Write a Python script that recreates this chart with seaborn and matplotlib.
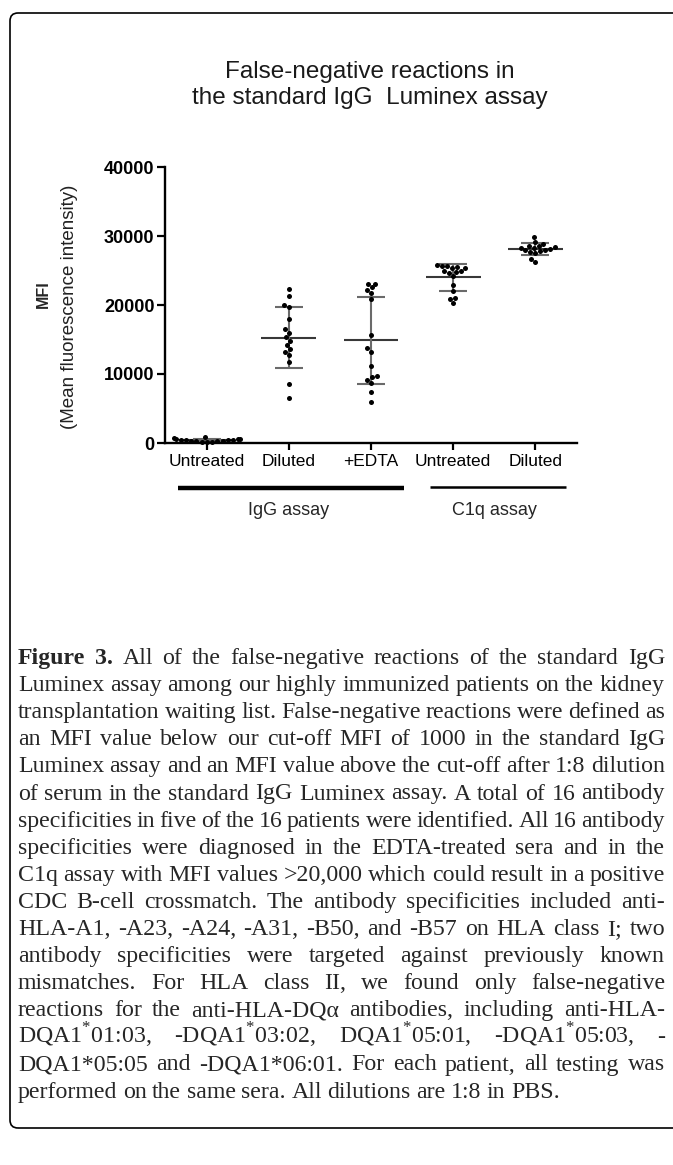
import numpy as np
import pandas as pd
import seaborn as sns
import matplotlib.pyplot as plt
from matplotlib.patches import FancyBboxPatch
from matplotlib.transforms import blended_transform_factory

# values (MFI per antibody specificity)
conditions = ["IgG Untreated", "IgG Diluted", "IgG +EDTA", "C1q Untreated", "C1q Diluted"]
tick_labels = ["Untreated", "Diluted", "+EDTA", "Untreated", "Diluted"]

igg_untreated = [850, 700, 650, 600, 550, 500, 450, 400, 400, 350, 300, 300, 250, 200, 200, 150]
igg_diluted = [22300, 21300, 20000, 19700, 18000, 16500, 16000, 15300,
               14800, 14200, 13600, 13200, 12700, 11800, 8600, 6500]
igg_edta = [23100, 23100, 22600, 22200, 21700, 20800, 15600, 13700,
            13200, 11100, 9700, 9600, 9200, 8700, 7400, 6000]
c1q_untreated = [25800, 25700, 25600, 25500, 25400, 25300, 25000, 24900,
                 24800, 24600, 24200, 22900, 22100, 21000, 20900, 20300]
c1q_diluted = [29800, 29100, 28800, 28600, 28500, 28400, 28300, 28200,
               28100, 28000, 27900, 27800, 27700, 27500, 26700, 26300]

assay_groups = ["IgG assay", "C1q assay"]
assay_first = [0, 3]
assay_last = [2, 4]

caption_lines = [
    "Figure 3. All of the false-negative reactions of the standard IgG",
    "Luminex assay among our highly immunized patients on the kidney",
    "transplantation waiting list. False-negative reactions were defined as",
    "an MFI value below our cut-off MFI of 1000 in the standard IgG",
    "Luminex assay and an MFI value above the cut-off after 1:8 dilution",
    "of serum in the standard IgG Luminex assay. A total of 16 antibody",
    "specificities in five of the 16 patients were identified. All 16 antibody",
    "specificities were diagnosed in the EDTA-treated sera and in the",
    "C1q assay with MFI values >20,000 which could result in a positive",
    "CDC B-cell crossmatch. The antibody specificities included anti-",
    "HLA-A1, -A23, -A24, -A31, -B50, and -B57 on HLA class I; two",
    "antibody specificities were targeted against previously known",
    "mismatches. For HLA class II, we found only false-negative",
    "reactions for the anti-HLA-DQ\u03b1 antibodies, including anti-HLA-",
    "DQA1$^{*}$01:03, -DQA1$^{*}$03:02, DQA1$^{*}$05:01, -DQA1$^{*}$05:03, -",
    "DQA1*05:05 and -DQA1*06:01. For each patient, all testing was",
    "performed on the same sera. All dilutions are 1:8 in PBS.",
]

df = pd.DataFrame({
    "condition": np.repeat(conditions, 16),
    "mfi": igg_untreated + igg_diluted + igg_edta + c1q_untreated + c1q_diluted,
})

sns.set_style("ticks")
plt.rcParams["font.family"] = ["Liberation Sans", "DejaVu Sans"]
plt.rcParams["mathtext.fontset"] = "custom"
plt.rcParams["mathtext.rm"] = "Liberation Serif"

W, H = 673, 1165
fig = plt.figure(figsize=(W / 100, H / 100), dpi=100)
ax = fig.add_axes([165 / W, 1 - 443 / H, 412 / W, 276 / H])

sns.swarmplot(data=df, x="condition", y="mfi", order=conditions, color="black",
              size=3.6, ax=ax, zorder=3, warn_thresh=1)

stats = df.groupby("condition")["mfi"].agg(["mean", "std"]).reindex(conditions)
pos = np.arange(len(conditions))
lo = stats["mean"] - stats["std"]
hi = stats["mean"] + stats["std"]
ax.hlines(stats["mean"], pos - 0.335, pos + 0.335, color="#383838", lw=1.5, zorder=2)
ax.vlines(pos, lo, hi, color="#6a6a6a", lw=1.5, zorder=2)
ax.hlines(lo, pos - 0.17, pos + 0.17, color="#6a6a6a", lw=1.5, zorder=2)
ax.hlines(hi, pos - 0.17, pos + 0.17, color="#6a6a6a", lw=1.5, zorder=2)

ax.set_xlim(-0.51, 4.51)
ax.set_ylim(0, 40000)
ax.set_yticks([0, 10000, 20000, 30000, 40000])
ax.set_yticklabels(["0", "10000", "20000", "30000", "40000"], fontweight="bold")
ax.set_xticks(pos)
ax.set_xticklabels(tick_labels)
ax.set_xlabel("")
ax.set_ylabel("")
sns.despine(ax=ax)
for s in ["left", "bottom"]:
    ax.spines[s].set_linewidth(1.7)
    ax.spines[s].set_color("black")
ax.tick_params(axis="y", length=5.5, width=1.6, pad=2, labelsize=13, colors="black")
ax.tick_params(axis="x", length=5, width=1.6, pad=3, labelsize=12.5, colors="black")
for c in ax.collections:
    c.set_clip_on(False)

# assay group bars under the x axis
trans = blended_transform_factory(ax.transData, ax.transAxes)
bar_lw = [3.2, 1.8]
bar_y = [-0.163, -0.158]
bar_pad = [(0.35, 0.4), (0.28, 0.38)]
for a, b, lw, by, (pl, pr) in zip(assay_first, assay_last, bar_lw, bar_y, bar_pad):
    ax.plot([a - pl, b + pr], [by, by], color="black", lw=lw, transform=trans,
            clip_on=False, solid_capstyle="butt")
for g, a, b in zip(assay_groups, assay_first, assay_last):
    ax.text((a + b) / 2, -0.243, g, transform=trans, ha="center", va="center", fontsize=13)

# title and y labels
fig.text(370 / W, 1 - 72 / H, "False-negative reactions in", ha="center", va="center",
         fontsize=17.5, color="#1a1a1a")
fig.text(370 / W, 1 - 98 / H, "the standard IgG  Luminex assay", ha="center", va="center",
         fontsize=17.5, color="#1a1a1a")
fig.text(43 / W, 1 - 294 / H, "MFI", rotation=90, ha="center", va="center",
         fontsize=11.5, fontweight="bold")
fig.text(70 / W, 1 - 307 / H, "(Mean fluorescence intensity)", rotation=90, ha="center",
         va="center", fontsize=13.5, color="#222222")

# rounded frame
frame = FancyBboxPatch((10 / 100, (H - 1128) / 100), 690 / 100, (1128 - 13) / 100,
                       boxstyle="round,pad=0,rounding_size=0.08", transform=fig.dpi_scale_trans,
                       fill=False, lw=1.2, ec="black")
fig.add_artist(frame)

# justified caption
renderer = fig.canvas.get_renderer()
x_left, x_right = 18, 665
for i, line in enumerate(caption_lines):
    yb = 1 - (664 + i * 27.1) / H
    words = line.split(" ")
    texts = []
    for j, w in enumerate(words):
        bold = i == 0 and j < 2
        t = fig.text(0, yb, w, fontsize=17.2, family="Liberation Serif",
                     fontweight="bold" if bold else "normal", va="baseline", ha="left")
        texts.append(t)
    widths = [t.get_window_extent(renderer).width for t in texts]
    if i == len(caption_lines) - 1:
        gap = 5.5
    else:
        gap = (x_right - x_left - sum(widths)) / (len(words) - 1)
    x = x_left
    for t, w in zip(texts, widths):
        t.set_x(x / W)
        x += w + gap

fig.savefig("out.png", dpi=100)
